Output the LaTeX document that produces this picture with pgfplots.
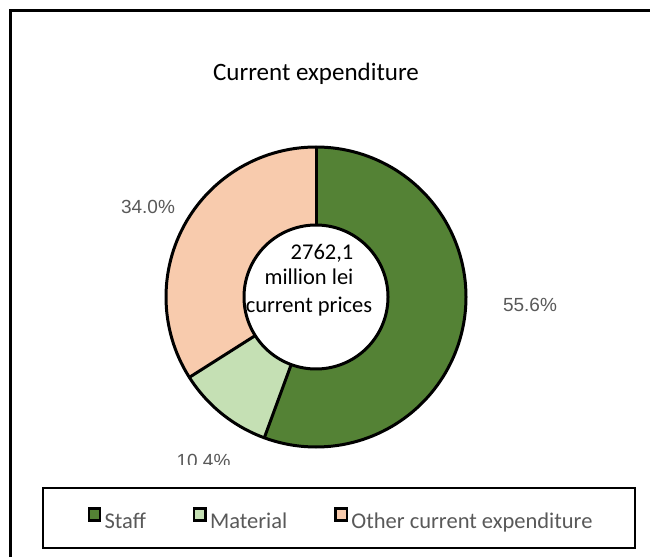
\documentclass[border=0pt]{standalone}
\usepackage{pgfplots}
\pgfplotsset{compat=1.18}
\usepackage{pgfplotstable}
\usepackage{fontspec}
\setmainfont{Carlito}
\newfontfamily\arialf{Liberation Sans}
\definecolor{staffc}{HTML}{548235}
\definecolor{matc}{HTML}{C5E0B4}
\definecolor{othc}{HTML}{F8CBAD}
\definecolor{lblgray}{HTML}{595959}

\pgfplotstableread{
category share
Staff 55.6
Material 10.4
Other 34.0
}\shares

\newcommand\donutwedge[3]{%
  \addplot[fill=#1, draw=none, forget plot, domain=0:201, samples=202, variable=\t]
  ({316+((\t<100.5)?150:72)*cos((\t<100.5)?((#2)+((#3)-(#2))*\t/100):((#3)+((#2)-(#3))*(\t-101)/100))},
   {260+((\t<100.5)?150:72)*sin((\t<100.5)?((#2)+((#3)-(#2))*\t/100):((#3)+((#2)-(#3))*(\t-101)/100))});
}
\newcommand\radial[1]{%
  \addplot[black, line width=3pt, forget plot, domain=72:150, samples=2]
  ({316+x*cos(#1)},{260+x*sin(#1)});
}

\begin{document}
\begin{tikzpicture}
\pgfplotstablegetelem{0}{share}\of\shares \edef\sA{\pgfplotsretval}
\pgfplotstablegetelem{1}{share}\of\shares \edef\sB{\pgfplotsretval}
\pgfplotstablegetelem{2}{share}\of\shares \edef\sC{\pgfplotsretval}
\pgfmathsetmacro{\aA}{90}
\pgfmathsetmacro{\aB}{\aA-3.6*\sA}
\pgfmathsetmacro{\aC}{\aB-3.6*\sB}
\pgfmathsetmacro{\aD}{\aC-3.6*\sC}
\begin{axis}[name=ax, x=1pt, y=1pt, xmin=0, xmax=650, ymin=0, ymax=557,
  scale only axis, hide axis, clip=false,
  legend columns=3,
  legend cell align=left,
  legend image code/.code={\draw[#1,draw=black,line width=2.4pt] (0pt,0.6pt) rectangle (11.2pt,12.6pt);},
  legend style={at={(axis cs:87.5,38.5)}, anchor=west, draw=none, fill=none,
    inner sep=0pt, outer sep=0pt,
    font=\fontsize{22.5}{27}\selectfont, text=lblgray,
    nodes={inner sep=0pt},
    /tikz/every odd column/.append style={column sep=3.5pt},
    /tikz/every even column/.append style={column sep=47pt}},
]
\donutwedge{staffc}{\aA}{\aB}
\donutwedge{matc}{\aB}{\aC}
\donutwedge{othc}{\aC}{\aD}
\addplot[black, line width=3pt, line cap=round, forget plot, domain=0:360, samples=181] ({316+150*cos(x)},{260+150*sin(x)});
\addplot[black, line width=3pt, line cap=round, forget plot, domain=0:360, samples=181] ({316+72*cos(x)},{260+72*sin(x)});
\radial{\aA}
\radial{\aB}
\radial{\aC}

\addlegendimage{fill=staffc}\addlegendentry{Staff}
\addlegendimage{fill=matc}\addlegendentry{Material}
\addlegendimage{fill=othc}\addlegendentry{Other current expenditure}

% frame and legend box
\draw[line width=3pt] (axis cs:10,0) -- (axis cs:10,546) -- (axis cs:650,546);
\draw[line width=2pt] (axis cs:42.5,69) rectangle (axis cs:634.5,9);

% texts
\node[anchor=base, font=\fontsize{25}{30}\selectfont] at (axis cs:316,476) {Current expenditure};
\node[anchor=base, font=\fontsize{22.5}{27}\selectfont] at (axis cs:322,297) {2762,1};
\node[anchor=base, font=\fontsize{22.5}{27}\selectfont] at (axis cs:309,272) {million lei};
\node[anchor=base, font=\fontsize{22.5}{27}\selectfont] at (axis cs:309,244) {current prices};
\node[font=\arialf\fontsize{19}{23}\selectfont, text=lblgray] at (axis cs:148,350.5) {34.0\%};
\node[font=\arialf\fontsize{19}{23}\selectfont, text=lblgray] at (axis cs:530,252) {55.6\%};
\begin{scope}
\clip (axis cs:150,92.5) rectangle (axis cs:260,120);
\node[anchor=base, font=\arialf\fontsize{19}{23}\selectfont, text=lblgray] at (axis cs:203.5,90) {10.4\%};
\end{scope}
\end{axis}
\pgfresetboundingbox
\useasboundingbox (ax.south west) rectangle (ax.north east);
\end{tikzpicture}
\end{document}
